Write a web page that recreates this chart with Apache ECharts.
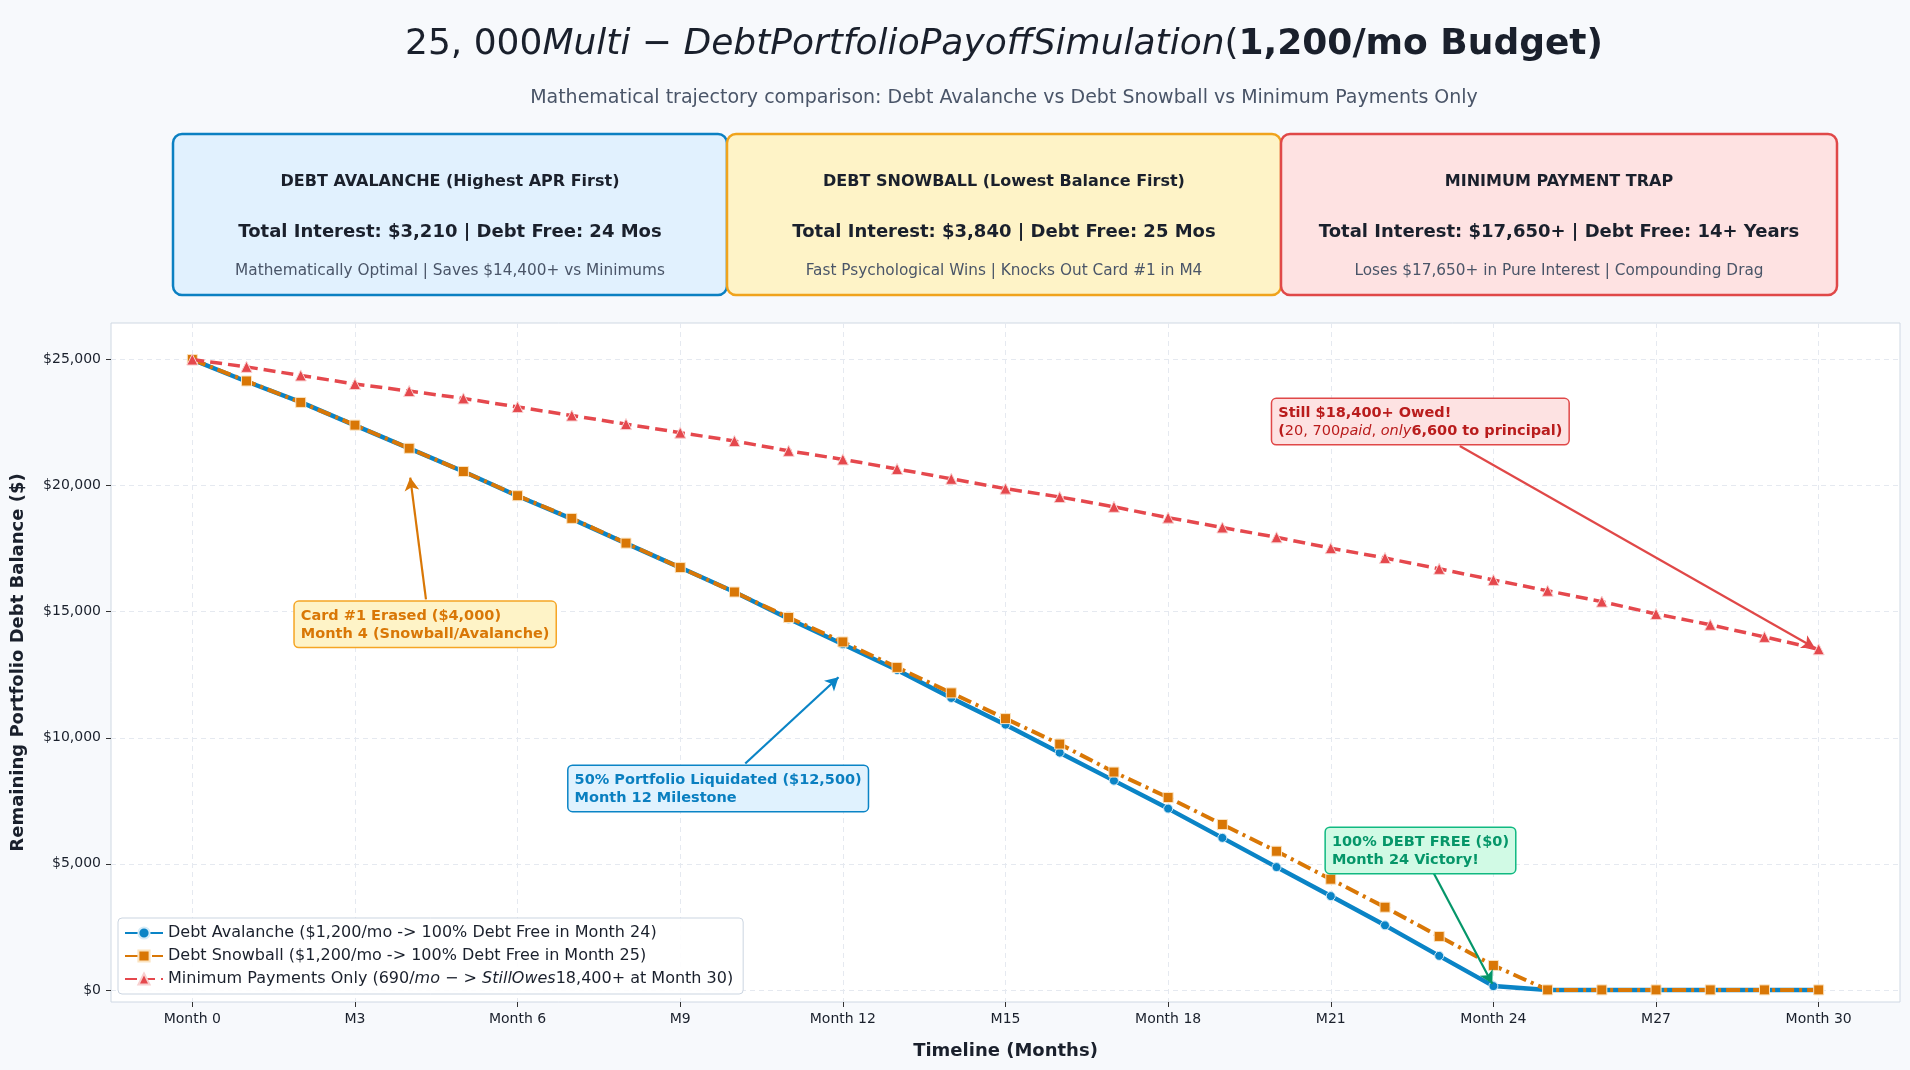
<!DOCTYPE html>
<html><head><meta charset="utf-8">
<script src="https://cdn.jsdelivr.net/npm/echarts@6/dist/echarts.min.js"></script>
<style>html,body{margin:0;padding:0;background:#f7f9fc;}#chart{width:1910px;height:1070px;}</style>
</head><body><div id="chart"></div>
<script>
// ---------- DATA ----------
const months = [0,1,2,3,4,5,6,7,8,9,10,11,12,13,14,15,16,17,18,19,20,21,22,23,24,25,26,27,28,29,30];
const avalanche = [25000,24130,23310,22390,21480,20560,19590,18680,17710,16750,15780,14720,13710,12690,11580,10520,9410,8300,7190,6030,4870,3720,2560,1350,150,0,0,0,0,0,0];
const snowball = [25000,24150,23300,22400,21480,20560,19600,18700,17720,16750,15780,14770,13800,12790,11780,10760,9750,8640,7630,6560,5500,4390,3280,2120,970,0,0,0,0,0,0];
const minimumOnly = [25000,24710,24370,24030,23750,23460,23120,22780,22440,22100,21770,21380,21040,20660,20270,19880,19550,19160,18730,18340,17950,17520,17130,16700,16260,15830,15400,14910,14480,14000,13510];
const xTickValues = [0,3,6,9,12,15,18,21,24,27,30];
const xTickLabels = ['Month 0','M3','Month 6','M9','Month 12','M15','Month 18','M21','Month 24','M27','Month 30'];
const yTickValues = [0,5000,10000,15000,20000,25000];
const seriesNames = ['Debt Avalanche','Debt Snowball','Minimum Payments Only'];

// ---------- STYLE / LAYOUT ----------
const FONT = 'DejaVu Sans';
const C_BLUE = '#0a84c6', C_ORANGE = '#d97706', C_RED = '#e5484d';
const CENTER_X = 1004;

const cards = [
  {x:173, w:554, fill:'#e1f1fe', stroke:'#0b80c2', t1:'DEBT AVALANCHE (Highest APR First)', t2:'Total Interest: $3,210 | Debt Free: 24 Mos', t3:'Mathematically Optimal | Saves $14,400+ vs Minimums'},
  {x:727, w:554, fill:'#fef3c7', stroke:'#f0a31c', t1:'DEBT SNOWBALL (Lowest Balance First)', t2:'Total Interest: $3,840 | Debt Free: 25 Mos', t3:'Fast Psychological Wins | Knocks Out Card #1 in M4'},
  {x:1281, w:556, fill:'#fee2e2', stroke:'#e04848', t1:'MINIMUM PAYMENT TRAP', t2:'Total Interest: $17,650+ | Debt Free: 14+ Years', t3:'Loses $17,650+ in Pure Interest | Compounding Drag'}
];

const legendText = {
  'Debt Avalanche': 'Debt Avalanche ($1,200/mo -> 100% Debt Free in Month 24)',
  'Debt Snowball': 'Debt Snowball ($1,200/mo -> 100% Debt Free in Month 25)',
  'Minimum Payments Only': 'Minimum Payments Only (690/{i|mo} − > {i|StillOwes}18,400+ at Month 30)'
};

const pair = arr => months.map((m,i) => [m, arr[i]]);

const annotations = [
  {box:[1.89,14500], from:[4.31,15490], to:[4.02,20320], color:'#d97706', arrow:'#d97706', bg:'#fef3c7', border:'#f5a524',
   text:'Card #1 Erased ($4,000)\nMonth 4 (Snowball/Avalanche)'},
  {box:[6.94,7990], from:[10.2,8980], to:[11.92,12400], color:'#0a7fc0', arrow:'#0a84c6', bg:'#e0f2fe', border:'#0a84c6',
   text:'50% Portfolio Liquidated ($12,500)\nMonth 12 Milestone'},
  {box:[19.92,22540], from:[23.38,21570], to:[29.93,13560], color:'#b91c1c', arrow:'#e04848', bg:'#fde2e2', border:'#e04848',
   text:'Still $18,400+ Owed!\n({n|20, 700}{it|paid}{n|, }{it|only}6,600 to principal)'},
  {box:[20.91,5530], from:[22.9,4630], to:[23.98,240], color:'#059669', arrow:'#059669', bg:'#d1fae5', border:'#10b981',
   text:'100% DEBT FREE ($0)\nMonth 24 Victory!'}
];

const chart = echarts.init(document.getElementById('chart'));

const graphic = [
  {type:'text', x:CENTER_X, y:45, style:{
    text:'{n|25, 000}{i|Multi}{n| − }{i|DebtPortfolioPayoffSimulation}{n|(}{b|1,200/mo Budget)}',
    align:'center', verticalAlign:'middle',
    rich:{
      n:{fontFamily:FONT, fontSize:36, fontWeight:'normal', fill:'#1a202c'},
      i:{fontFamily:FONT, fontSize:36, fontWeight:'normal', fontStyle:'italic', fill:'#1a202c'},
      b:{fontFamily:FONT, fontSize:36, fontWeight:'bold', fill:'#1a202c'}}}},
  {type:'text', x:CENTER_X, y:98, style:{
    text:'Mathematical trajectory comparison: Debt Avalanche vs Debt Snowball vs Minimum Payments Only',
    align:'center', verticalAlign:'middle', fontFamily:FONT, fontSize:19, fill:'#4a5568'}}
];
cards.forEach(c => {
  graphic.push({
    type:'group', x:c.x, y:134,
    children:[
      {type:'rect', shape:{x:0,y:0,width:c.w,height:161,r:9}, style:{fill:c.fill, stroke:c.stroke, lineWidth:2.5}},
      {type:'text', x:c.w/2, y:48, style:{text:c.t1, align:'center', verticalAlign:'middle', fontFamily:FONT, fontWeight:'bold', fontSize:16, fill:'#1a202c'}},
      {type:'text', x:c.w/2, y:98, style:{text:c.t2, align:'center', verticalAlign:'middle', fontFamily:FONT, fontWeight:'bold', fontSize:18, fill:'#1a202c'}},
      {type:'text', x:c.w/2, y:137, style:{text:c.t3, align:'center', verticalAlign:'middle', fontFamily:FONT, fontSize:15.3, fill:'#4a5568'}}
    ]
  });
});

const option = {
  backgroundColor:'#f7f9fc',
  animation:false,
  textStyle:{fontFamily:FONT},
  graphic: graphic,
  grid:{left:111, right:10, top:323, bottom:68, containLabel:false, outerBoundsMode:'none',
        show:true, backgroundColor:'#ffffff', borderColor:'#cfd8e3', borderWidth:1},
  legend:{
    data:seriesNames, orient:'vertical', left:118, top:918, itemGap:7, itemWidth:38, itemHeight:14,
    backgroundColor:'rgba(255,255,255,0.9)', borderColor:'#cbd5e1', borderWidth:1, borderRadius:4,
    padding:[7,10,7,6],
    textStyle:{fontFamily:FONT, fontSize:16, color:'#1a202c', rich:{i:{fontFamily:FONT, fontSize:16, fontStyle:'italic', color:'#1a202c'}}},
    formatter: name => legendText[name]
  },
  xAxis:{
    type:'value', min:-1.5, max:31.5,
    name:'Timeline (Months)', nameLocation:'middle', nameGap:40,
    nameTextStyle:{fontFamily:FONT, fontSize:18, fontWeight:'bold', color:'#1a202c'},
    axisLine:{show:false, onZero:false},
    axisTick:{show:true, length:5, lineStyle:{color:'#333'}, customValues:xTickValues},
    axisLabel:{customValues:xTickValues, margin:10, fontSize:14, color:'#1a202c', fontFamily:FONT,
      formatter: v => xTickLabels[xTickValues.indexOf(v)] || ''},
    splitLine:{show:true, lineStyle:{type:[5,4], color:'#e5e9f0', width:1}}
  },
  yAxis:{
    type:'value', min:-480, max:26450,
    name:'Remaining Portfolio Debt Balance ($)', nameLocation:'middle', nameGap:84,
    nameTextStyle:{fontFamily:FONT, fontSize:18, fontWeight:'bold', color:'#1a202c'},
    axisLine:{show:false, onZero:false},
    axisTick:{show:true, length:5, lineStyle:{color:'#333'}, customValues:yTickValues},
    axisLabel:{customValues:yTickValues, margin:10, fontSize:14, color:'#1a202c', fontFamily:FONT,
      formatter: v => '$' + Number(v).toLocaleString('en-US')},
    splitLine:{show:true, lineStyle:{type:[5,4], color:'#e5e9f0', width:1}}
  },
  series:[
    {name:'Debt Avalanche', type:'line', data:pair(avalanche), color:C_BLUE,
     symbol:'circle', symbolSize:9, showAllSymbol:true,
     lineStyle:{width:4.5, color:C_BLUE}, itemStyle:{color:C_BLUE, borderColor:'#d6ecf8', borderWidth:1}, z:3},
    {name:'Debt Snowball', type:'line', data:pair(snowball), color:C_ORANGE,
     symbol:'rect', symbolSize:10, showAllSymbol:true,
     lineStyle:{width:4, color:C_ORANGE, type:[14,5,3,5]}, itemStyle:{color:C_ORANGE, borderColor:'#fbe3c0', borderWidth:1}, z:4},
    {name:'Minimum Payments Only', type:'line', data:pair(minimumOnly), color:C_RED,
     symbol:'triangle', symbolSize:11, showAllSymbol:true,
     lineStyle:{width:3.5, color:C_RED, type:[12,6]}, itemStyle:{color:C_RED, borderColor:'#f8d0d0', borderWidth:1}, z:5},
    {name:'annotations', type:'scatter', data:[], silent:true, z:10,
     markLine:{silent:true, symbol:['none','arrow'], symbolSize:[11,13], animation:false,
       label:{show:false},
       data: annotations.map(a => [
         {coord:a.from, lineStyle:{color:a.arrow, width:2.2, type:'solid'}},
         {coord:a.to}
       ])},
     markPoint:{silent:true, animation:false,
       data: annotations.map(a => ({
         coord:a.box, symbol:'circle', symbolSize:0,
         label:{show:true, position:'right', distance:0, align:'left',
           formatter:a.text, fontFamily:FONT, fontSize:14.5, fontWeight:'bold', lineHeight:18, color:a.color,
           backgroundColor:a.bg, borderColor:a.border, borderWidth:1.5, borderRadius:4, padding:[5,6,4,6],
           rich:{
             n:{fontFamily:FONT, fontSize:14.5, fontWeight:'normal', color:a.color, lineHeight:18},
             it:{fontFamily:FONT, fontSize:14.5, fontWeight:'normal', fontStyle:'italic', color:a.color, lineHeight:18}
           }}
       }))}
    }
  ]
};
chart.setOption(option);
</script>
</body></html>
